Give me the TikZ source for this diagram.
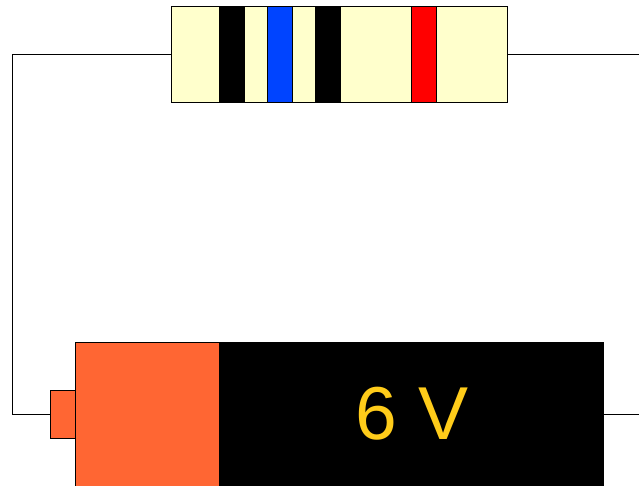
\documentclass[tikz,border=0pt]{standalone}
\usepackage{fontspec}
\setmainfont{Liberation Sans}
\definecolor{resbody}{HTML}{FFFFCC}
\definecolor{bandblue}{HTML}{0044FF}
\definecolor{bandred}{HTML}{FF0000}
\definecolor{batorange}{HTML}{FF6633}
\definecolor{batlabel}{HTML}{FFCC1A}
\tikzset{
  part/.style={draw=black,line width=1pt,inner sep=0pt,outer sep=0pt,anchor=north west},
  wire/.style={draw=black,line width=1pt},
}
\begin{document}
\begin{tikzpicture}[x=1pt,y=-1pt]
\useasboundingbox (0,0) rectangle (639,486);
\coordinate (cornerL) at (12.5,100);
\coordinate (endT) at (639,54);
\coordinate (endB) at (639,414);
% resistor
\node[part,fill=resbody,minimum width=336pt,minimum height=96pt] (res) at (171.5,6.5) {};
\node[part,fill=black,minimum width=25pt,minimum height=96pt] (b1) at (219.5,6.5) {};
\node[part,fill=bandblue,minimum width=25pt,minimum height=96pt] (b2) at (267.5,6.5) {};
\node[part,fill=black,minimum width=25pt,minimum height=96pt] (b3) at (315.5,6.5) {};
\node[part,fill=bandred,minimum width=25pt,minimum height=96pt] (b4) at (411.5,6.5) {};
% battery
\node[part,fill=batorange,minimum width=25pt,minimum height=48pt] (tab) at (50.5,390) {};
\node[part,fill=batorange,minimum width=144pt,minimum height=144pt] (cap) at (75.5,342) {};
\node[part,fill=black,minimum width=384.5pt,minimum height=144pt] (cell) at (219,342) {};
\node[inner sep=0pt,text=batlabel,font=\fontsize{75}{75}\selectfont] (lbl) at (412,414) {6 V};
% wires
\draw[wire] (res.west) -| (cornerL) |- (tab.west);
\draw[wire] (res.east) -- (res.east -| endT);
\draw[wire] (cell.east) -- (endB);
\end{tikzpicture}
\end{document}
